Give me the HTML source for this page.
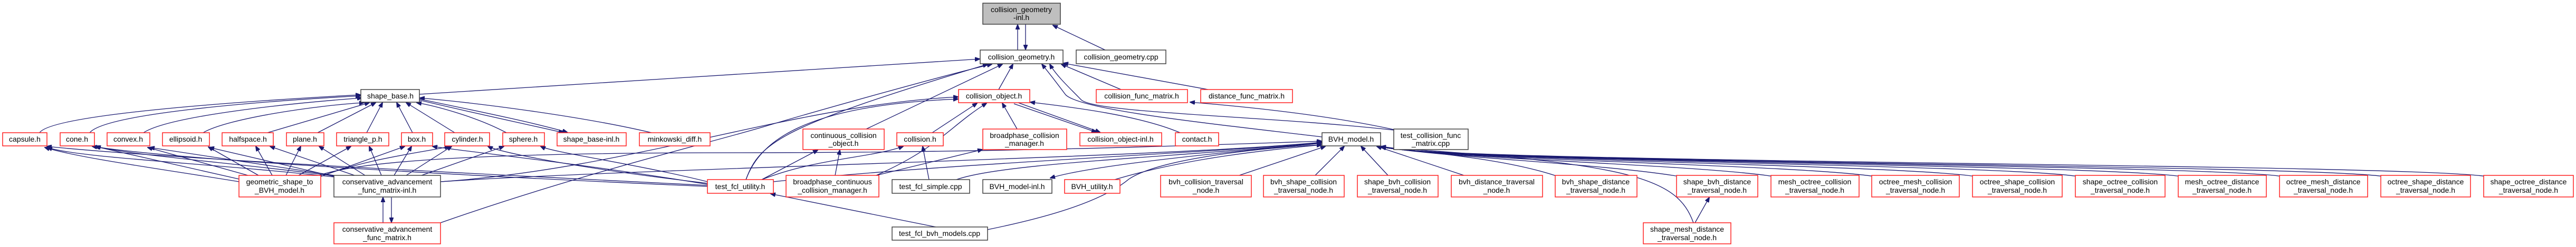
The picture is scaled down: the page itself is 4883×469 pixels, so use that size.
<!DOCTYPE html>
<html><head><meta charset="utf-8"><style>
html,body{margin:0;padding:0;background:#fff;}
svg{display:block;}
text{font-family:"Liberation Sans",sans-serif;font-size:14px;fill:#000;text-anchor:middle;}
.e{fill:none;stroke:#191970;stroke-width:1.3;}
.r{fill:#fff;stroke:#ff2020;stroke-width:1.5;}
.b{fill:#fff;stroke:#404040;stroke-width:1.5;}
.g{fill:#bfbfbf;stroke:#404040;stroke-width:1.5;}
</style></head><body>
<svg width="4883" height="469" viewBox="0 0 4883 469" xmlns="http://www.w3.org/2000/svg">
<defs><marker id="a" markerWidth="10" markerHeight="8" refX="9" refY="4" orient="auto" markerUnits="userSpaceOnUse"><path d="M0,0 L10,4 L0,8 z" fill="#191970" stroke="#191970"/></marker></defs>
<g class="e" marker-end="url(#a)">
<!-- collision_geometry -->
<path d="M1929,95 L1929,47"/>
<path d="M1944,46 L1944,94"/>
<path d="M2095,95 L1996,48"/>
<path d="M795,179 L1857,112"/>
<path d="M1893,170 L1920,122"/>
<path d="M1642,245 L1900,122"/>
<path d="M1414,341 C1440,270 1480,240 1872,122"/>
<path d="M835,423 C1100,330 1350,270 1450,240 S1800,140 1880,122"/>
<path d="M2125,170 L2012,122"/>
<path d="M2290,170 L2016,120"/>
<path d="M2642,247 C2400,220 2080,215 2050,190 C2020,160 2000,140 1990,122"/>
<path d="M2506,260 C2300,235 2050,210 2020,180 C2005,160 1990,140 1975,122"/>
<path d="M2642,246 C2500,215 2330,200 2256,194"/>
<!-- collision_object -->
<path d="M2237,252 C2150,215 2000,200 1953,194"/>
<path d="M1930,195 L2085,251"/>
<path d="M1922,197 L2078,251"/>
<path d="M1767,252 L1852,196"/>
<path d="M1928,245 L1900,196"/>
<path d="M1414,341 C1440,270 1520,200 1816,188"/>
<path d="M835,345 C1200,320 1500,200 1816,184"/>
<path d="M1661,333 C1780,280 1800,240 1870,196"/>
<path d="M1583,333 L1592,285"/>
<path d="M1661,333 L1862,284"/>
<path d="M1444,341 L1550,285"/>
<path d="M1444,341 C1550,300 1650,300 1712,278"/>
<path d="M1761,341 L1749,278"/>
<!-- BVH_model -->
<path d="M1813,341 C1900,310 2200,300 2505,272"/>
<path d="M2506,272 C2200,300 2050,320 1991,338"/>
<path d="M2113,341 C2250,300 2400,285 2505,275"/>
<path d="M2349,333 L2512,278"/>
<path d="M2493,333 L2548,278"/>
<path d="M2631,333 L2580,278"/>
<path d="M2775,333 L2610,278"/>
<path d="M2953,335 C2850,300 2700,290 2618,278"/>
<path d="M3183,335 C3030,310 2750,300 2618,279"/>
<path d="M3362,335 C3210,312 2750,302 2618,279"/>
<path d="M3553,335 C3400,312 2750,304 2618,279"/>
<path d="M3744,335 C3590,312 2750,305 2618,279"/>
<path d="M3939,335 C3790,312 2750,306 2618,279"/>
<path d="M4134,335 C3980,312 2750,307 2618,279"/>
<path d="M4326,335 C4170,312 2750,308 2618,279"/>
<path d="M4518,335 C4360,312 2750,309 2618,279"/>
<path d="M4713,335 C4550,310 2750,310 2618,279"/>
<path d="M3210,423 C3180,340 3100,310 2618,280"/>
<path d="M3213,423 L3240,375"/>
<path d="M1872,436 C1950,420 2080,390 2140,340 C2200,300 2400,280 2505,275"/>
<path d="M1774,431 L1461,368"/>
<path d="M605,333 C700,300 1000,290 1400,290 C1900,290 2300,275 2505,268"/>
<path d="M835,345 C1200,320 2200,300 2505,270"/>
<path d="M1466,345 C1800,310 2300,290 2505,271"/>
<!-- shapes to shape_base -->
<path d="M75,252 C100,215 500,190 683,180"/>
<path d="M170,252 C200,215 500,192 683,182"/>
<path d="M272,252 C320,220 550,196 686,186"/>
<path d="M385,252 C430,225 600,200 690,195"/>
<path d="M507,252 L700,195"/>
<path d="M602,252 L712,195"/>
<path d="M695,252 L725,195"/>
<path d="M782,252 L752,195"/>
<path d="M862,252 L770,195"/>
<path d="M960,252 C900,220 820,200 790,195"/>
<path d="M795,188 C900,210 1000,230 1075,251"/>
<path d="M795,190 C895,214 990,234 1068,252"/>
<path d="M1235,252 C1100,220 900,195 796,186"/>
<!-- geometric_shape_to_BVH_model -->
<path d="M453,345 C300,320 150,300 85,280"/>
<path d="M453,340 L180,278"/>
<path d="M470,333 L280,280"/>
<path d="M490,333 L395,279"/>
<path d="M516,333 L485,278"/>
<path d="M542,333 L570,278"/>
<path d="M566,333 L665,278"/>
<path d="M608,335 L767,278"/>
<path d="M608,335 C700,300 800,290 852,278"/>
<!-- conservative_advancement-inl -->
<path d="M633,336 C400,310 150,300 90,280"/>
<path d="M633,334 C450,310 250,295 182,278"/>
<path d="M633,333 L284,280"/>
<path d="M633,335 L397,280"/>
<path d="M672,333 L512,278"/>
<path d="M692,333 L605,278"/>
<path d="M723,333 L700,278"/>
<path d="M747,333 L780,278"/>
<path d="M770,333 L856,278"/>
<path d="M799,333 L955,278"/>
<path d="M726,423 L726,375"/>
<path d="M742,375 L742,422"/>
<!-- test_fcl_utility to shapes -->
<path d="M1341,350 C1100,310 900,290 820,278"/>
<path d="M1341,348 C1100,320 950,290 925,278"/>
<path d="M1341,345 C1200,310 1050,290 1025,278"/>
<path d="M1341,352 C900,330 300,300 89,278"/>
<path d="M1341,354 C900,335 350,305 175,278"/>
</g>
<!-- nodes -->
<g>
<rect class="g" x="1863" y="6" width="147" height="40"/><text x="1936" y="23">collision_geometry</text><text x="1936" y="38">-inl.h</text>
<rect class="b" x="1858" y="95" width="157" height="26"/><text x="1936" y="113">collision_geometry.h</text>
<rect class="b" x="2040" y="95" width="170" height="26"/><text x="2125" y="113">collision_geometry.cpp</text>
<rect class="b" x="684" y="170" width="111" height="24"/><text x="740" y="187">shape_base.h</text>
<rect class="r" x="1817" y="170" width="135" height="25"/><text x="1884" y="187">collision_object.h</text>
<rect class="r" x="2078" y="170" width="173" height="25"/><text x="2164" y="187">collision_func_matrix.h</text>
<rect class="r" x="2276" y="170" width="174" height="25"/><text x="2363" y="187">distance_func_matrix.h</text>

<rect class="r" x="5" y="252" width="84" height="25"/><text x="47" y="269">capsule.h</text>
<rect class="r" x="114" y="252" width="65" height="25"/><text x="146" y="269">cone.h</text>
<rect class="r" x="203" y="252" width="81" height="25"/><text x="243" y="269">convex.h</text>
<rect class="r" x="308" y="252" width="89" height="25"/><text x="352" y="269">ellipsoid.h</text>
<rect class="r" x="421" y="252" width="97" height="25"/><text x="470" y="269">halfspace.h</text>
<rect class="r" x="543" y="252" width="71" height="25"/><text x="578" y="269">plane.h</text>
<rect class="r" x="638" y="252" width="99" height="25"/><text x="688" y="269">triangle_p.h</text>
<rect class="r" x="761" y="252" width="59" height="25"/><text x="790" y="269">box.h</text>
<rect class="r" x="843" y="252" width="85" height="25"/><text x="886" y="269">cylinder.h</text>
<rect class="r" x="953" y="252" width="79" height="25"/><text x="992" y="269">sphere.h</text>
<rect class="r" x="1056" y="252" width="131" height="25"/><text x="1121" y="269">shape_base-inl.h</text>
<rect class="r" x="1212" y="252" width="134" height="25"/><text x="1279" y="269">minkowski_diff.h</text>
<rect class="r" x="1522" y="245" width="154" height="39"/><text x="1599" y="262">continuous_collision</text><text x="1599" y="277">_object.h</text>
<rect class="r" x="1700" y="252" width="88" height="25"/><text x="1744" y="269">collision.h</text>
<rect class="r" x="1863" y="245" width="159" height="39"/><text x="1942" y="262">broadphase_collision</text><text x="1942" y="277">_manager.h</text>
<rect class="r" x="2047" y="252" width="155" height="25"/><text x="2124" y="269">collision_object-inl.h</text>
<rect class="r" x="2228" y="252" width="82" height="25"/><text x="2269" y="269">contact.h</text>
<rect class="b" x="2506" y="252" width="111" height="25"/><text x="2561" y="269">BVH_model.h</text>
<rect class="b" x="2642" y="245" width="141" height="39"/><text x="2712" y="262">test_collision_func</text><text x="2712" y="277">_matrix.cpp</text>

<rect class="r" x="453" y="333" width="155" height="41"/><text x="530" y="350">geometric_shape_to</text><text x="530" y="366">_BVH_model.h</text>
<rect class="b" x="633" y="333" width="202" height="41"/><text x="734" y="350">conservative_advancement</text><text x="734" y="366">_func_matrix-inl.h</text>
<rect class="r" x="1341" y="341" width="125" height="26"/><text x="1403" y="359">test_fcl_utility.h</text>
<rect class="r" x="1490" y="333" width="176" height="41"/><text x="1578" y="350">broadphase_continuous</text><text x="1578" y="366">_collision_manager.h</text>
<rect class="b" x="1691" y="341" width="147" height="26"/><text x="1764" y="359">test_fcl_simple.cpp</text>
<rect class="b" x="1863" y="341" width="131" height="26"/><text x="1928" y="359">BVH_model-inl.h</text>
<rect class="r" x="2018" y="341" width="105" height="26"/><text x="2070" y="359">BVH_utility.h</text>
<rect class="r" x="2200" y="333" width="172" height="41"/><text x="2286" y="350">bvh_collision_traversal</text><text x="2286" y="366">_node.h</text>
<rect class="r" x="2395" y="333" width="153" height="41"/><text x="2471" y="350">bvh_shape_collision</text><text x="2471" y="366">_traversal_node.h</text>
<rect class="r" x="2573" y="333" width="153" height="41"/><text x="2649" y="350">shape_bvh_collision</text><text x="2649" y="366">_traversal_node.h</text>
<rect class="r" x="2751" y="333" width="173" height="41"/><text x="2837" y="350">bvh_distance_traversal</text><text x="2837" y="366">_node.h</text>
<rect class="r" x="2948" y="333" width="155" height="41"/><text x="3025" y="350">bvh_shape_distance</text><text x="3025" y="366">_traversal_node.h</text>
<rect class="r" x="3178" y="333" width="154" height="41"/><text x="3255" y="350">shape_bvh_distance</text><text x="3255" y="366">_traversal_node.h</text>
<rect class="r" x="3357" y="333" width="167" height="41"/><text x="3440" y="350">mesh_octree_collision</text><text x="3440" y="366">_traversal_node.h</text>
<rect class="r" x="3548" y="333" width="166" height="41"/><text x="3631" y="350">octree_mesh_collision</text><text x="3631" y="366">_traversal_node.h</text>
<rect class="r" x="3739" y="333" width="170" height="41"/><text x="3824" y="350">octree_shape_collision</text><text x="3824" y="366">_traversal_node.h</text>
<rect class="r" x="3934" y="333" width="170" height="41"/><text x="4019" y="350">shape_octree_collision</text><text x="4019" y="366">_traversal_node.h</text>
<rect class="r" x="4129" y="333" width="167" height="41"/><text x="4212" y="350">mesh_octree_distance</text><text x="4212" y="366">_traversal_node.h</text>
<rect class="r" x="4321" y="333" width="167" height="41"/><text x="4404" y="350">octree_mesh_distance</text><text x="4404" y="366">_traversal_node.h</text>
<rect class="r" x="4513" y="333" width="170" height="41"/><text x="4598" y="350">octree_shape_distance</text><text x="4598" y="366">_traversal_node.h</text>
<rect class="r" x="4708" y="333" width="170" height="41"/><text x="4793" y="350">shape_octree_distance</text><text x="4793" y="366">_traversal_node.h</text>

<rect class="r" x="633" y="423" width="202" height="40"/><text x="734" y="440">conservative_advancement</text><text x="734" y="456">_func_matrix.h</text>
<rect class="b" x="1691" y="431" width="181" height="25"/><text x="1781" y="448">test_fcl_bvh_models.cpp</text>
<rect class="r" x="3115" y="423" width="166" height="40"/><text x="3198" y="440">shape_mesh_distance</text><text x="3198" y="456">_traversal_node.h</text>
</g>
</svg>
</body></html>
